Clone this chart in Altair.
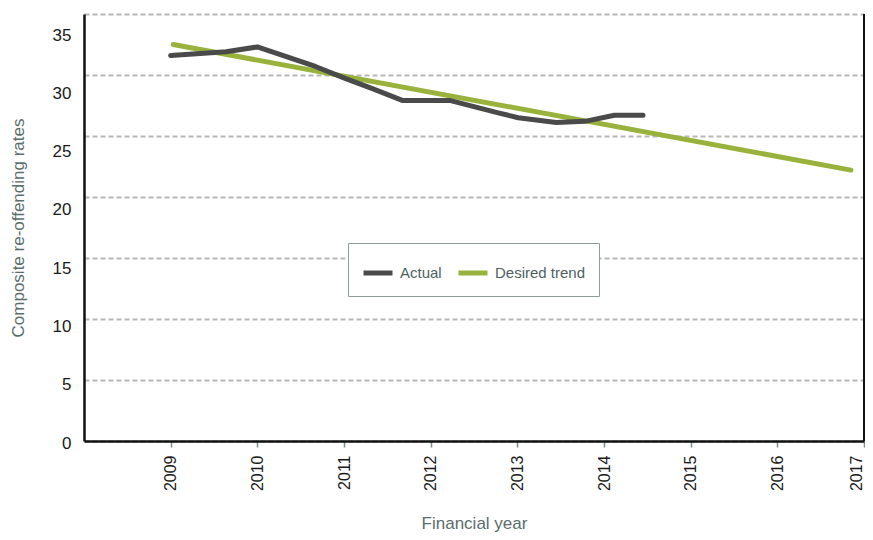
import altair as alt
import pandas as pd

# ---- data ----
years_actual = [2009.00, 2009.64, 2010.00, 2010.67, 2011.02, 2011.32, 2011.68,
                2012.23, 2012.78, 2013.01, 2013.45, 2013.78, 2014.12, 2014.45]
values_actual = [31.6, 31.9, 32.3, 30.7, 29.7, 28.9, 27.9,
                 27.9, 26.9, 26.5, 26.1, 26.2, 26.7, 26.7]
years_trend = [2009.03, 2016.85]
values_trend = [32.5, 22.2]
series = ["Actual", "Desired trend"]
colors = ["#4a4a4a", "#98b23c"]
x_ticks = list(range(2009, 2018))
y_ticks = list(range(0, 36, 5))

df_actual = pd.DataFrame({"year": years_actual, "value": values_actual, "series": series[0]})
df_trend = pd.DataFrame({"year": years_trend, "value": values_trend, "series": series[1]})
df_border = pd.DataFrame({"year": [x_ticks[-1]]})

FONT = "Liberation Sans"
TITLE_COLOR = "#5b6d6d"

x_enc = alt.X(
    "year:Q",
    scale=alt.Scale(domain=[2008, 2017], nice=False, zero=False),
    axis=alt.Axis(
        values=x_ticks, format="d", labelAngle=270, title="Financial year",
        labelFont=FONT, labelFontSize=16, labelColor="#1a1a1a", labelPadding=8,
        labelOffset=alt.ExprRef(expr="datum.value == 2017 ? -8 : 0"),
        titleFont=FONT, titleFontSize=17, titleFontWeight="normal", titleColor=TITLE_COLOR,
        titlePadding=25, domainColor="#111111", domainWidth=2.5,
        tickColor="#7d8c8c", tickSize=6, tickWidth=1.5, grid=False,
    ),
)
y_enc = alt.Y(
    "value:Q",
    scale=alt.Scale(domain=[0, 35], nice=False),
    axis=alt.Axis(
        values=y_ticks, title="Composite re-offending rates",
        labelFont=FONT, labelFontSize=17, labelColor="#1a1a1a", labelPadding=13,
        labelOffset=alt.ExprRef(expr="2 + datum.value * 0.543"),
        titleFont=FONT, titleFontSize=17, titleFontWeight="normal", titleColor=TITLE_COLOR,
        titlePadding=25, domainColor="#111111", domainWidth=2.5, ticks=False,
        grid=True, gridColor="#b8b8b8", gridDash=[5, 3], gridWidth=1.8,
    ),
)
color_enc = alt.Color(
    "series:N",
    scale=alt.Scale(domain=series, range=colors),
    legend=alt.Legend(
        title=None, orient="none", direction="horizontal", legendX=264, legendY=229,
        symbolType="stroke", symbolSize=841, symbolStrokeWidth=5,
        labelFont=FONT, labelFontSize=15, labelColor="#4e5f5f", labelOffset=5,
        columnPadding=6, padding=13, strokeColor="#8e9c9c", fillColor="white",
        cornerRadius=0,
    ),
)

trend = alt.Chart(df_trend).mark_line(strokeWidth=5, strokeCap="round").encode(
    x=x_enc, y=y_enc, color=color_enc)
actual = alt.Chart(df_actual).mark_line(strokeWidth=5, strokeCap="round", strokeJoin="round").encode(
    x=x_enc, y=y_enc, color=color_enc)
border = alt.Chart(df_border).mark_rule(color="#111111", strokeWidth=2).encode(x="year:Q")

chart = alt.layer(trend, actual, border).properties(
    width=780, height=427,
    autosize=alt.AutoSizeParams(type="none"),
    padding={"left": 76, "top": 6, "right": 1, "bottom": 96},
).configure_view(stroke=None)

chart.save("out.html", embed_options={"renderer": "svg", "actions": False})
